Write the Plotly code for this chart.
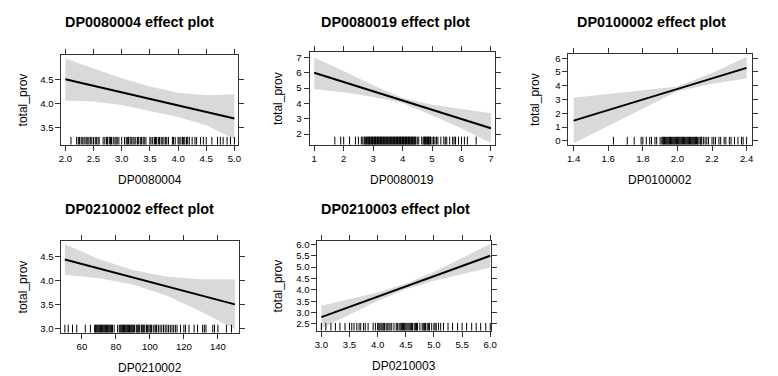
import plotly.graph_objects as go

# ---------------- data ----------------
names = ["DP0080004", "DP0080019", "DP0100002", "DP0210002", "DP0210003"]
response = "total_prov"

# fitted line + confidence band (x grid, fit, lower, upper)
x_dp0080004 = [2.0, 2.5, 3.0, 3.5, 4.0, 4.5, 5.0]
fit_dp0080004 = [4.50, 4.365, 4.23, 4.095, 3.96, 3.825, 3.69]
lo_dp0080004 = [4.06, 4.04, 3.97, 3.84, 3.72, 3.55, 3.27]
hi_dp0080004 = [4.93, 4.72, 4.52, 4.35, 4.22, 4.17, 4.19]

x_dp0080019 = [1, 2, 3, 4, 5, 6, 7]
fit_dp0080019 = [6.00, 5.40, 4.79, 4.19, 3.59, 2.98, 2.38]
lo_dp0080019 = [4.92, 4.73, 4.42, 4.03, 3.22, 2.36, 1.42]
hi_dp0080019 = [7.00, 6.12, 5.18, 4.35, 3.92, 3.62, 3.36]

x_dp0100002 = [1.4, 1.6, 1.8, 2.0, 2.2, 2.4]
fit_dp0100002 = [1.47, 2.24, 3.00, 3.77, 4.53, 5.30]
lo_dp0100002 = [-0.18, 1.09, 2.35, 3.60, 4.15, 4.52]
hi_dp0100002 = [3.12, 3.39, 3.65, 3.94, 4.93, 6.08]

x_dp0210002 = [50, 70, 90, 110, 130, 150]
fit_dp0210002 = [4.44, 4.25, 4.07, 3.88, 3.69, 3.50]
lo_dp0210002 = [4.12, 4.05, 3.92, 3.68, 3.35, 2.98]
hi_dp0210002 = [4.76, 4.45, 4.22, 4.08, 4.03, 4.02]

x_dp0210003 = [3.0, 3.5, 4.0, 4.5, 5.0, 5.5, 6.0]
fit_dp0210003 = [2.80, 3.25, 3.70, 4.15, 4.60, 5.05, 5.50]
lo_dp0210003 = [2.30, 2.92, 3.52, 4.03, 4.40, 4.70, 4.98]
hi_dp0210003 = [3.30, 3.58, 3.88, 4.27, 4.80, 5.40, 6.02]

# rug (observed values of each predictor)
rug_dp0080004 = [2.1, 2.2, 2.23, 2.25, 2.28, 2.3, 2.33, 2.35, 2.38, 2.4, 2.42, 2.45, 2.47,
                 2.5, 2.53, 2.55, 2.58, 2.6, 2.67, 2.7, 2.73, 2.75, 2.78, 2.8, 2.82, 2.85,
                 2.88, 2.9, 2.92, 2.95, 3.0, 3.05, 3.08, 3.1, 3.12, 3.15, 3.17, 3.2, 3.22,
                 3.25, 3.28, 3.3, 3.33, 3.35, 3.38, 3.4, 3.43, 3.5, 3.52, 3.55, 3.58, 3.6,
                 3.62, 3.65, 3.67, 3.7, 3.72, 3.75, 3.78, 3.8, 3.83, 3.9, 3.92, 3.95, 4.0,
                 4.02, 4.05, 4.08, 4.1, 4.12, 4.15, 4.17, 4.2, 4.25, 4.3, 4.33, 4.4, 4.45,
                 4.5, 4.6, 4.7, 4.75, 4.8, 4.87, 4.93, 5.0]
rug_dp0080019 = [1.7, 1.9, 2.0, 2.2, 2.4, 2.5, 2.6, 2.65, 2.7, 2.72, 2.75, 2.78, 2.8,
                 2.83, 2.85, 2.88, 2.9, 2.93, 2.95, 2.98, 3.0, 3.03, 3.05, 3.08, 3.1,
                 3.13, 3.15, 3.18, 3.2, 3.23, 3.25, 3.28, 3.3, 3.33, 3.35, 3.38, 3.4,
                 3.43, 3.45, 3.48, 3.5, 3.53, 3.55, 3.58, 3.6, 3.63, 3.65, 3.68, 3.7,
                 3.73, 3.75, 3.78, 3.8, 3.83, 3.85, 3.88, 3.9, 3.93, 3.95, 3.98, 4.0,
                 4.03, 4.05, 4.08, 4.1, 4.13, 4.15, 4.18, 4.2, 4.23, 4.25, 4.28, 4.3,
                 4.33, 4.35, 4.38, 4.4, 4.43, 4.45, 4.5, 4.55, 4.65, 4.7, 4.73, 4.75,
                 4.78, 4.8, 4.83, 4.85, 4.88, 4.9, 4.93, 4.95, 5.0, 5.05, 5.1, 5.15, 5.2,
                 5.3, 5.4, 5.45, 5.5, 5.6, 5.7, 5.75, 5.8, 5.9, 6.0, 6.1, 6.2, 6.5]
rug_dp0100002 = [1.63, 1.71, 1.75, 1.79, 1.8, 1.82, 1.84, 1.85, 1.87, 1.88, 1.9, 1.91,
                 1.915, 1.92, 1.925, 1.93, 1.935, 1.94, 1.945, 1.95, 1.955, 1.96, 1.965,
                 1.97, 1.975, 1.98, 1.985, 1.99, 1.995, 2.0, 2.005, 2.01, 2.015, 2.02,
                 2.025, 2.03, 2.035, 2.04, 2.045, 2.05, 2.055, 2.06, 2.065, 2.07, 2.075,
                 2.08, 2.085, 2.09, 2.095, 2.1, 2.105, 2.11, 2.115, 2.12, 2.13, 2.135,
                 2.14, 2.15, 2.16, 2.17, 2.18, 2.2, 2.21, 2.22, 2.24, 2.25, 2.27, 2.28,
                 2.3, 2.31, 2.33, 2.35, 2.37, 2.38, 2.4]
rug_dp0210002 = [50, 52, 54.5, 57, 62, 65, 67.5, 68, 68.5, 69, 69.5, 70, 70.5, 71, 71.5,
                 72, 72.5, 73, 73.5, 74, 74.5, 75, 75.5, 76, 76.5, 77, 77.5, 78, 79, 81,
                 82, 82.5, 83, 83.5, 84, 84.5, 85, 85.5, 86, 86.5, 87, 87.5, 88, 88.5, 89,
                 89.5, 90, 90.5, 91, 92, 92.5, 93, 93.5, 94, 95, 95.5, 96, 96.5, 97, 98,
                 98.5, 99, 100, 100.5, 101, 102, 103, 103.5, 104, 105, 106, 107, 108,
                 109, 110, 111, 112, 113, 114, 115, 116, 118, 120, 121, 123, 126, 128,
                 131, 132, 133, 137, 138, 140, 145, 148]
rug_dp0210003 = [3.0, 3.08, 3.17, 3.25, 3.33, 3.42, 3.5, 3.54, 3.58, 3.63, 3.67, 3.7,
                 3.75, 3.78, 3.83, 3.92, 3.96, 4.0, 4.02, 4.04, 4.06, 4.08, 4.1, 4.12,
                 4.15, 4.17, 4.2, 4.22, 4.25, 4.29, 4.33, 4.35, 4.38, 4.4, 4.42, 4.44,
                 4.46, 4.48, 4.5, 4.52, 4.54, 4.56, 4.58, 4.6, 4.62, 4.65, 4.67, 4.69,
                 4.71, 4.75, 4.79, 4.81, 4.83, 4.85, 4.88, 4.9, 4.92, 4.96, 5.0, 5.02,
                 5.04, 5.08, 5.12, 5.17, 5.25, 5.33, 5.42, 5.5, 5.58, 5.67, 5.75, 5.83,
                 5.92, 6.0]

# tick values / labels
xt_dp0080004 = [2.0, 2.5, 3.0, 3.5, 4.0, 4.5, 5.0]
yt_dp0080004 = [3.5, 4.0, 4.5]
xt_dp0080019 = [1, 2, 3, 4, 5, 6, 7]
yt_dp0080019 = [2, 3, 4, 5, 6, 7]
xt_dp0100002 = [1.4, 1.6, 1.8, 2.0, 2.2, 2.4]
yt_dp0100002 = [0, 1, 2, 3, 4, 5, 6]
xt_dp0210002 = [60, 80, 100, 120, 140]
yt_dp0210002 = [3.0, 3.5, 4.0, 4.5]
xt_dp0210003 = [3.0, 3.5, 4.0, 4.5, 5.0, 5.5, 6.0]
yt_dp0210003 = [2.5, 3.0, 3.5, 4.0, 4.5, 5.0, 5.5, 6.0]

xfmt = ["{:.1f}", "{:d}", "{:.1f}", "{:d}", "{:.1f}"]
yfmt = ["{:.1f}", "{:d}", "{:d}", "{:.1f}", "{:.1f}"]

# ---------------- layout geometry (pixels) ----------------
W, H = 778, 376
# left, right, top, bottom of each plot box
boxes = [(51, 230, 45, 136), (302, 490, 42, 136), (564, 750, 44, 136),
         (51, 231, 233, 326), (310, 486, 233, 324)]
xranges = [[1.93, 5.07], [0.84, 7.15], [1.37, 2.433], [47.97, 152.6], [2.93, 6.02]]
yranges = [[3.153, 5.01], [1.31, 7.39], [-0.27, 6.34], [2.91, 4.84], [2.21, 6.17]]
cells = [(0, 259), (259, 519), (519, 778), (0, 259), (259, 519)]
title_y = [12, 12, 12, 201, 201]
ytitle_x = [12, 270, 530, 12, 270]

panels = [
    (x_dp0080004, fit_dp0080004, lo_dp0080004, hi_dp0080004, rug_dp0080004, xt_dp0080004, yt_dp0080004),
    (x_dp0080019, fit_dp0080019, lo_dp0080019, hi_dp0080019, rug_dp0080019, xt_dp0080019, yt_dp0080019),
    (x_dp0100002, fit_dp0100002, lo_dp0100002, hi_dp0100002, rug_dp0100002, xt_dp0100002, yt_dp0100002),
    (x_dp0210002, fit_dp0210002, lo_dp0210002, hi_dp0210002, rug_dp0210002, xt_dp0210002, yt_dp0210002),
    (x_dp0210003, fit_dp0210003, lo_dp0210003, hi_dp0210003, rug_dp0210003, xt_dp0210003, yt_dp0210003),
]

FONT = "Liberation Sans, Arial, Helvetica, sans-serif"
BAND = "#d9d9d9"
AXC = "#333333"

fig = go.Figure()
shapes = []
annotations = []
layout = dict(width=W, height=H, margin=dict(l=0, r=0, t=0, b=0),
              paper_bgcolor="white", plot_bgcolor="white", showlegend=False,
              font=dict(family=FONT, color="black"))

for i, (xs, fit, lo, hi, rug, xt, yt) in enumerate(panels):
    k = "" if i == 0 else str(i + 1)
    xa, ya = "x" + k, "y" + k
    L, R, T, B = boxes[i]
    # band
    fig.add_trace(go.Scatter(x=xs + xs[::-1], y=hi + lo[::-1], fill="toself",
                             fillcolor=BAND, line=dict(width=0), mode="lines",
                             hoverinfo="skip", xaxis=xa, yaxis=ya))
    # fit line
    fig.add_trace(go.Scatter(x=xs, y=fit, mode="lines",
                             line=dict(color="black", width=2),
                             xaxis=xa, yaxis=ya))
    # rug
    for v in rug:
        shapes.append(dict(type="line", xref=xa, yref=ya + " domain",
                           x0=v, x1=v, y0=0, y1=0.085,
                           line=dict(color="black", width=1)))
    axis_common = dict(showline=True, linecolor=AXC, linewidth=1, mirror="ticks",
                       ticks="outside", ticklen=5, tickwidth=1, tickcolor=AXC,
                       showgrid=False, zeroline=False,
                       tickfont=dict(size=9.6, family=FONT, color="black"))
    layout["xaxis" + k] = dict(domain=[L / W, R / W], range=xranges[i], anchor=ya,
                               tickvals=xt, ticktext=[xfmt[i].format(v) for v in xt],
                               **axis_common)
    layout["yaxis" + k] = dict(domain=[1 - B / H, 1 - T / H], range=yranges[i], anchor=xa,
                               tickvals=yt, ticktext=[yfmt[i].format(v) for v in yt],
                               **axis_common)
    c0, c1 = cells[i]
    annotations.append(dict(text="<b>%s effect plot</b>" % names[i], xref="paper", yref="paper",
                            x=(c0 + c1) / 2 / W, y=1 - title_y[i] / H, showarrow=False,
                            xanchor="center", yanchor="middle",
                            font=dict(size=14.4, family=FONT, color="black")))
    annotations.append(dict(text=names[i], xref="paper", yref="paper",
                            x=(L + R) / 2 / W, y=1 - (B + 36) / H, showarrow=False,
                            xanchor="center", yanchor="middle",
                            font=dict(size=12, family=FONT, color="black")))
    annotations.append(dict(text=response, xref="paper", yref="paper", textangle=-90,
                            x=ytitle_x[i] / W, y=1 - (T + B) / 2 / H, showarrow=False,
                            xanchor="center", yanchor="middle",
                            font=dict(size=12, family=FONT, color="black")))

layout["shapes"] = shapes
layout["annotations"] = annotations
fig.update_layout(**layout)
fig.write_html("out.html")
